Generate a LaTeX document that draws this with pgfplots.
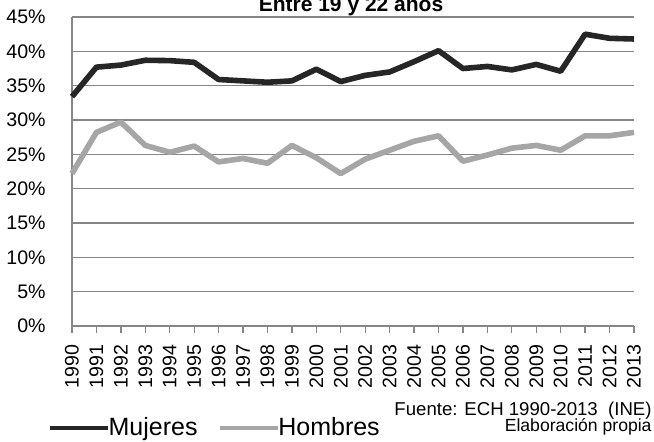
\documentclass[border=0pt]{standalone}
\usepackage{fontspec}
\setmainfont{Liberation Sans}
\usepackage{pgfplots}
\pgfplotsset{compat=1.18}

\definecolor{mujcol}{HTML}{262626}
\definecolor{homcol}{HTML}{A6A6A6}
\definecolor{gridcol}{HTML}{868686}

\begin{document}
\begin{tikzpicture}
\begin{axis}[
  width=281pt, height=154.5pt, scale only axis,
  xmin=1990, xmax=2013, ymin=0, ymax=45,
  xtick={1990,1991,...,2013},
  ytick={0,5,...,45},
  yticklabels={0\%,5\%,10\%,15\%,20\%,25\%,30\%,35\%,40\%,45\%},
  /pgf/number format/assume math mode=true,
  /pgf/number format/1000 sep={},
  axis x line*=bottom, axis y line*=left,
  axis line style={gridcol, line width=0.65pt},
  ymajorgrids, major grid style={gridcol, line width=0.65pt},
  tick align=outside, major tick length=3.3pt,
  xtick style={gridcol, line width=0.65pt},
  ytick style={draw=none},
  xticklabel style={rotate=90, anchor=east, inner sep=0pt, font=\fontsize{9.8}{10}\selectfont},
  xticklabel shift=6pt,
  yticklabel style={anchor=east, inner sep=0pt, xshift=-9.7pt, font=\fontsize{9.8}{10}\selectfont},
  clip=false,
  legend columns=2,
  legend style={at={(-0.043,-0.330)}, anchor=west, draw=none, fill=none,
    inner sep=0pt, outer sep=0pt, nodes={inner sep=0pt},
    font=\fontsize{12.5}{14}\selectfont,
    /tikz/every odd column/.append style={column sep=-1pt},
    /tikz/every even column/.append style={column sep=10pt}},
  legend image code/.code={\draw[#1, line width=2.4pt] (0pt,0pt) -- (29pt,0pt);},
]
\addplot[mujcol, line width=2.8pt, line join=round] coordinates {
(1990,33.4) (1991,37.7) (1992,38.0) (1993,38.7) (1994,38.65) (1995,38.4)
(1996,35.9) (1997,35.7) (1998,35.5) (1999,35.7) (2000,37.4) (2001,35.6)
(2002,36.5) (2003,37.0) (2004,38.5) (2005,40.1) (2006,37.5) (2007,37.8)
(2008,37.3) (2009,38.1) (2010,37.1) (2011,42.5) (2012,41.9) (2013,41.8)};
\addplot[homcol, line width=2.8pt, line join=round] coordinates {
(1990,22.2) (1991,28.2) (1992,29.7) (1993,26.3) (1994,25.3) (1995,26.2)
(1996,23.9) (1997,24.4) (1998,23.7) (1999,26.3) (2000,24.5) (2001,22.2)
(2002,24.3) (2003,25.6) (2004,26.9) (2005,27.7) (2006,24.0) (2007,24.9)
(2008,25.9) (2009,26.3) (2010,25.6) (2011,27.7) (2012,27.7) (2013,28.2)};
\legend{Mujeres,Hombres}
\node[anchor=base, font=\bfseries\fontsize{10.5}{12}\selectfont] at (axis description cs:0.4965,1.0194) {Entre 19 y 22 años};
\node[anchor=base east, inner sep=0pt, font=\fontsize{9.3}{10}\selectfont] at (axis description cs:1.032,-0.290) {Fuente: ECH 1990-2013\ \ (INE)};
\node[anchor=base east, inner sep=0pt, font=\fontsize{8.8}{10}\selectfont] at (axis description cs:1.032,-0.343) {Elaboración propia};
\end{axis}
\pgfresetboundingbox
\useasboundingbox (-36pt,-57.5pt) rectangle (291pt,163pt);
\end{tikzpicture}
\end{document}
